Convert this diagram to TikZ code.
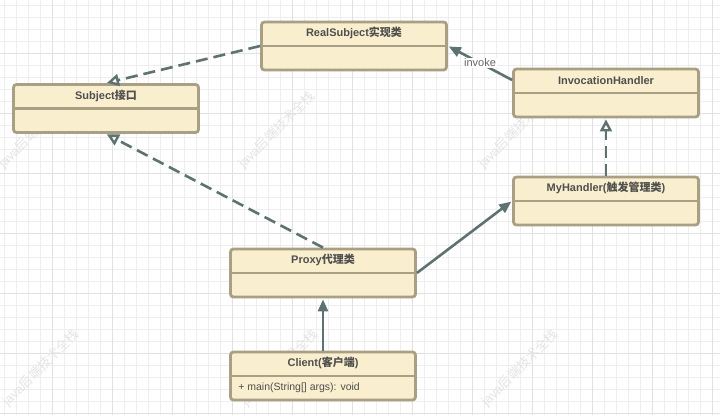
\documentclass[tikz,border=0pt]{standalone}
\usepackage{fontspec}
\setmainfont{Liberation Sans}
\newfontfamily\cjk{Noto Sans CJK SC}
\usetikzlibrary{arrows.meta}
\definecolor{boxfill}{HTML}{F9EECD}
\definecolor{boxline}{HTML}{A89F84}
\definecolor{conn}{HTML}{5F7272}
\definecolor{txt}{HTML}{4F4F4F}
\definecolor{lbl}{HTML}{666666}
\definecolor{gridmin}{HTML}{EEEEEE}
\definecolor{gridmaj}{HTML}{E1E1E1}
\definecolor{wmark}{HTML}{E4E4E4}
\tikzset{
  cls/.style={draw=boxline, fill=boxfill, line width=2.8pt, rounded corners=3pt,
    minimum width=185pt, minimum height=48pt, inner sep=0pt},
  divider/.style={draw=boxline, line width=2.8pt},
  title/.style={text=txt, font=\fontsize{11}{13}\selectfont\bfseries, inner sep=0pt},
  member/.style={text=txt, font=\fontsize{10.5}{13}\selectfont, inner sep=0pt, anchor=west},
  conline/.style={draw=conn, line width=2.6pt},
  realize/.style={conline, dash pattern=on 12pt off 6pt, shorten >=1pt,
    -{Triangle[open, length=12pt, width=12pt, line width=2.4pt]}},
  assoc/.style={conline, shorten >=1pt, -{Triangle[length=12pt, width=10pt]}},
  wm/.style={text=wmark, font=\fontsize{13}{15}\selectfont, rotate=45, inner sep=0pt},
  lab/.style={text=lbl, font=\fontsize{11}{13}\selectfont, fill=white, inner sep=1pt}
}
\begin{document}
\begin{tikzpicture}[x=1pt, y=-1pt]
\useasboundingbox (0,0) rectangle (720,415);
\fill[white] (0,0) rectangle (720,415);
% grid
\foreach \x in {4,16,...,720} \draw[gridmin, line width=0.8pt] (\x,0) -- (\x,415);
\foreach \y in {5,17,...,415} \draw[gridmin, line width=0.8pt] (0,\y) -- (720,\y);
\foreach \x in {52,112,...,720} \draw[gridmaj, line width=0.8pt] (\x,0) -- (\x,415);
\foreach \y in {53,113,...,415} \draw[gridmaj, line width=0.8pt] (0,\y) -- (720,\y);
% watermarks
\node[wm] (wm1) at (37,130) {java{\cjk 后端技术全栈}};
\node[wm] (wm2) at (277,130) {java{\cjk 后端技术全栈}};
\node[wm] (wm3) at (517,130) {java{\cjk 后端技术全栈}};
\node[wm] (wm4) at (41,368) {java{\cjk 后端技术全栈}};
\node[wm] (wm5) at (280,368) {java{\cjk 后端技术全栈}};
\node[wm] (wm6) at (520,368) {java{\cjk 后端技术全栈}};
% classes
\node[cls] (real) at (354,46) {};
\node[cls] (subj) at (106,108.5) {};
\node[cls] (inv) at (606,93) {};
\node[cls] (myh) at (606,201) {};
\node[cls] (proxy) at (323,273) {};
\node[cls] (client) at (323,376) {};
\foreach \n in {real,subj,inv,myh,proxy,client}
  \draw[divider] (\n.west) -- (\n.east);
\node[title] (realT) at ([yshift=-12.5pt]real.north) {RealSubject{\cjk 实现类}};
\node[title] (subjT) at ([yshift=-12.5pt]subj.north) {Subject{\cjk 接口}};
\node[title] (invT) at ([yshift=-12.5pt]inv.north) {InvocationHandler};
\node[title] (myhT) at ([yshift=-12.5pt]myh.north) {MyHandler({\cjk 触发管理类})};
\node[title] (proxyT) at ([yshift=-12.5pt]proxy.north) {Proxy{\cjk 代理类}};
\node[title] (clientT) at ([yshift=-12.5pt]client.north) {Client({\cjk 客户端})};
\node[member] (clientM) at ([xshift=9pt,yshift=-12pt]client.west) {+ main(String[] args): void};
% connectors
\draw[realize] (real.west) -- (subj.north);
\draw[realize] (proxy.north) -- (subj.south);
\draw[realize] (myh.north) -- (inv.south);
\draw[assoc] ([yshift=13pt]inv.west) -- node[lab] (invoke) {invoke} (real.east);
\draw[assoc] (proxy.east) -- (myh.west);
\draw[assoc] (client.north) -- (proxy.south);
\end{tikzpicture}
\end{document}
